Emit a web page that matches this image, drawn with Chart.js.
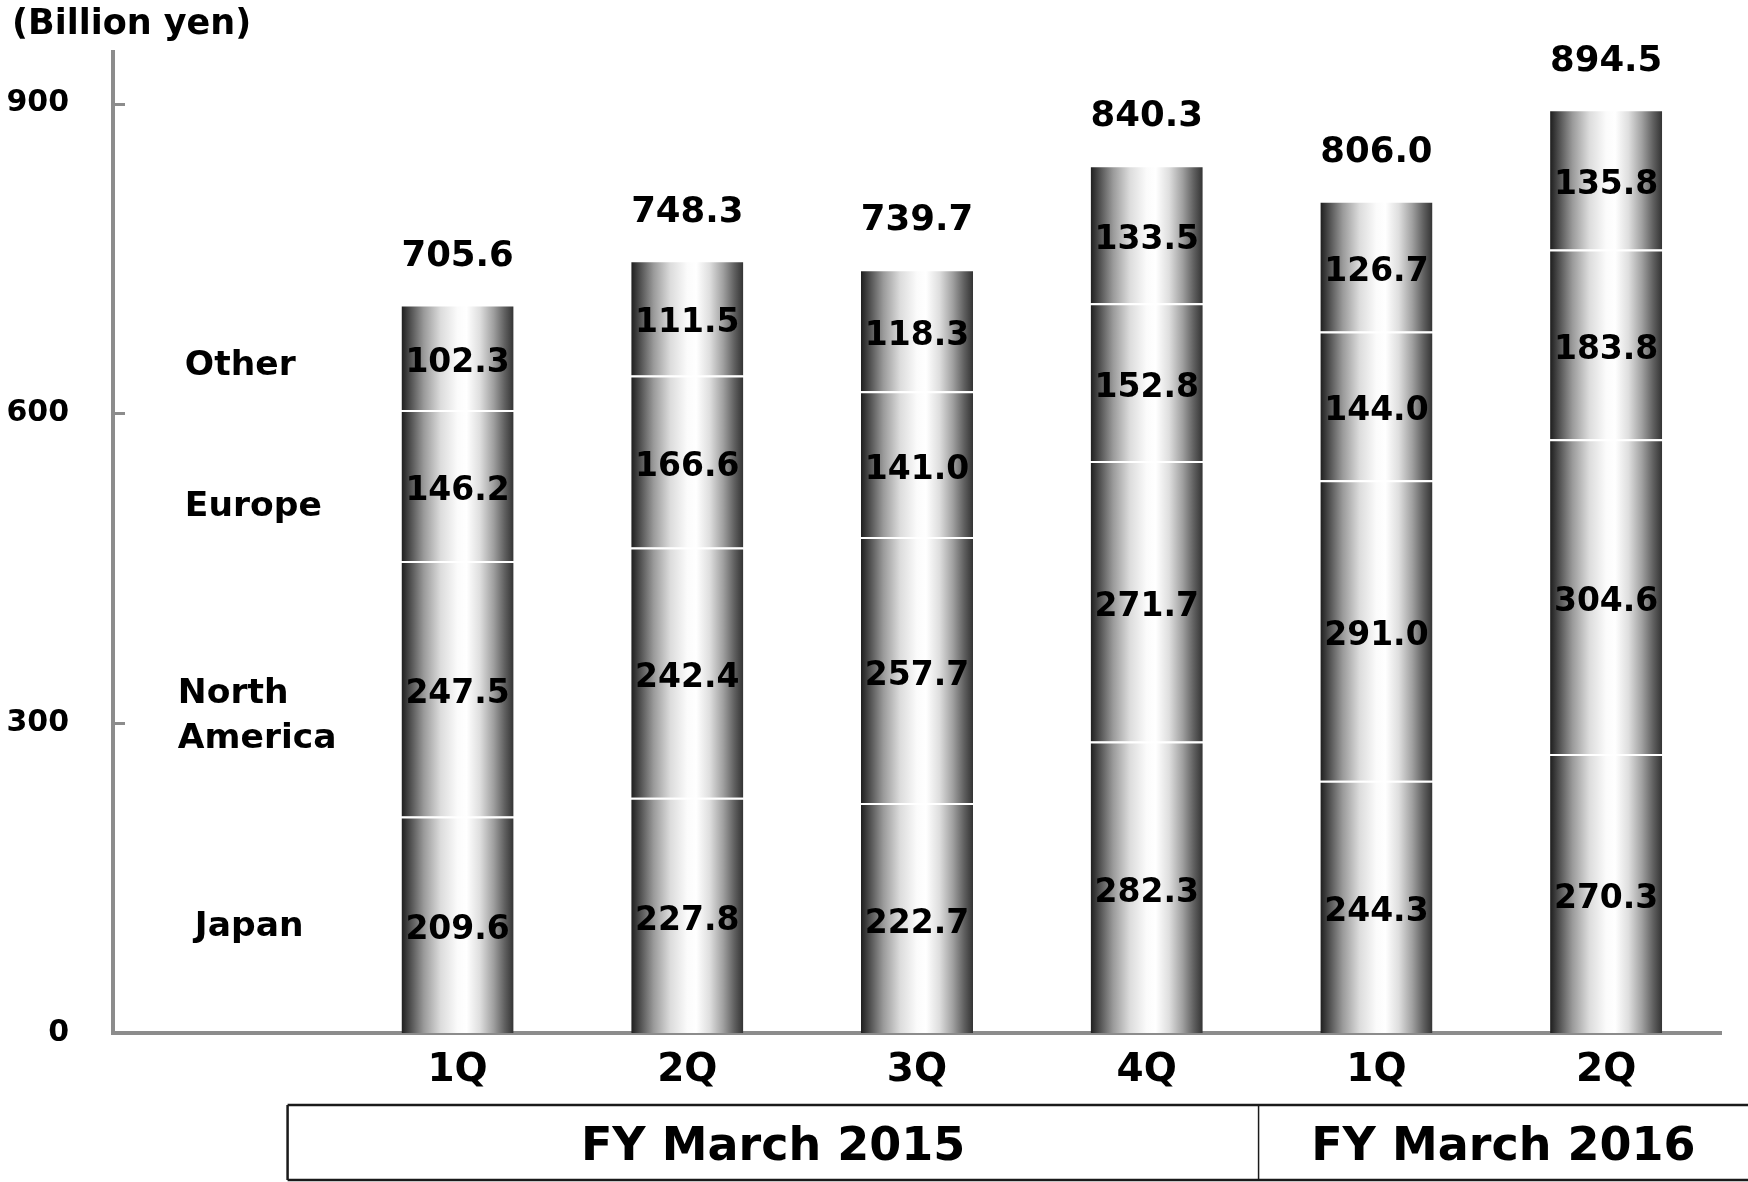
<!DOCTYPE html>
<html>
<head>
<meta charset="utf-8">
<title>Net sales by region</title>
<script src="https://cdn.jsdelivr.net/npm/chart.js@4.4.1/dist/chart.umd.min.js"></script>
<style>
  html, body { margin: 0; padding: 0; background: #ffffff; }
  #wrap { width: 1748px; height: 1182px; position: relative; }
</style>
</head>
<body>
<div id="wrap"><canvas id="chart"></canvas></div>
<script>
// Quarterly net sales by region (billion yen)
const quarters = ['1Q', '2Q', '3Q', '4Q', '1Q', '2Q'];
const fiscalYears = ['FY March 2015', 'FY March 2016'];
const quartersPerYear = [4, 2];
const japan        = [209.6, 227.8, 222.7, 282.3, 244.3, 270.3];
const northAmerica = [247.5, 242.4, 257.7, 271.7, 291.0, 304.6];
const europe       = [146.2, 166.6, 141.0, 152.8, 144.0, 183.8];
const other        = [102.3, 111.5, 118.3, 133.5, 126.7, 135.8];
const totals       = [705.6, 748.3, 739.7, 840.3, 806.0, 894.5];
const regionNames  = ['Japan', 'North America', 'Europe', 'Other'];
const yTicks       = [0, 300, 600, 900];
const unitLabel    = '(Billion yen)';

const FONT = '"DejaVu Sans", Verdana, sans-serif';
const BAR_PCT = 0.488;
const AXIS_GRAY = '#8c8c8c';

// The first category slot is left empty; the region names are drawn there.
const labels = [''].concat(quarters);
const withGap = arr => [null].concat(arr);

// Cylinder-like horizontal shading for each bar
function barFill(ctx) {
  const chart = ctx.chart;
  const xs = chart.scales.x;
  if (!xs || !chart.chartArea || !xs.width) return '#999';
  const cx = xs.getPixelForValue(ctx.dataIndex);
  const half = (xs.width / chart.data.labels.length) * BAR_PCT / 2;
  const g = chart.ctx.createLinearGradient(cx - half, 0, cx + half, 0);
  g.addColorStop(0.00, '#1e1e1e');
  g.addColorStop(0.08, '#505050');
  g.addColorStop(0.20, '#9a9a9a');
  g.addColorStop(0.35, '#dcdcdc');
  g.addColorStop(0.50, '#fbfbfb');
  g.addColorStop(0.58, '#ffffff');
  g.addColorStop(0.70, '#dedede');
  g.addColorStop(0.82, '#a0a0a0');
  g.addColorStop(0.92, '#606060');
  g.addColorStop(1.00, '#333333');
  return g;
}

function regionDataset(name, values) {
  return {
    label: name,
    data: withGap(values),
    backgroundColor: barFill,
    borderColor: '#ffffff',
    borderWidth: { top: 2, left: 0, right: 0, bottom: 0 },
    borderSkipped: 'start',
    barPercentage: BAR_PCT,
    categoryPercentage: 1.0,
    stack: 'sales'
  };
}

// Value labels inside segments, totals above bars, region names in the empty slot
const labelPlugin = {
  id: 'valueLabels',
  afterDatasetsDraw(chart) {
    const c = chart.ctx;
    const xs = chart.scales.x, ys = chart.scales.y;
    c.save();
    c.fillStyle = '#000000';
    c.textBaseline = 'middle';

    // segment values
    c.textAlign = 'center';
    c.font = 'bold 33px ' + FONT;
    chart.data.datasets.forEach((ds, di) => {
      const meta = chart.getDatasetMeta(di);
      meta.data.forEach((bar, i) => {
        const v = ds.data[i];
        if (v == null) return;
        c.fillText(v.toFixed(1), bar.x, (bar.y + bar.base) / 2 + 6);
      });
    });

    // totals above each stack
    c.font = 'bold 35.5px ' + FONT;
    totals.forEach((t, i) => {
      c.fillText(t.toFixed(1), xs.getPixelForValue(i + 1), ys.getPixelForValue(t) - 48);
    });

    // region names next to the first bar's segments
    c.textAlign = 'left';
    c.font = 'bold 34.5px ' + FONT;
    const slot0 = xs.getPixelForValue(0);
    const segCenter = di => {
      const bar = chart.getDatasetMeta(di).data[1];
      return (bar.y + bar.base) / 2;
    };
    c.fillText(regionNames[3], slot0 - 43, segCenter(3) + 9);
    c.fillText(regionNames[2], slot0 - 43, segCenter(2) + 22);
    const na = regionNames[1].split(' ');
    c.fillText(na[0], slot0 - 50, segCenter(1) + 5);
    c.fillText(na[1], slot0 - 50, segCenter(1) + 50);
    c.fillText(regionNames[0], slot0 - 33, segCenter(0) + 2);
    c.restore();
  }
};

// Inward tick marks, unit caption and the fiscal-year boxes under the axis
const framePlugin = {
  id: 'frame',
  afterDraw(chart) {
    const c = chart.ctx;
    const xs = chart.scales.x, ys = chart.scales.y;
    const area = chart.chartArea;
    c.save();

    c.strokeStyle = AXIS_GRAY;
    c.lineWidth = 3;
    yTicks.forEach(v => {
      if (v === 0) return;
      const y = Math.round(ys.getPixelForValue(v)) + 0.5;
      c.beginPath();
      c.moveTo(area.left, y);
      c.lineTo(area.left + 12, y);
      c.stroke();
    });

    c.fillStyle = '#000000';
    c.font = 'bold 35px ' + FONT;
    c.textAlign = 'left';
    c.textBaseline = 'middle';
    c.fillText(unitLabel, 12, 25);

    // fiscal-year grouping boxes
    const catW = xs.width / chart.data.labels.length;
    const boxTop = xs.bottom + 14;
    const boxBottom = chart.height - 2;
    const edges = [xs.getPixelForValue(0) + catW * 0.26];
    let idx = 0;
    quartersPerYear.forEach((n, k) => {
      idx += n;
      if (k < quartersPerYear.length - 1) {
        edges.push((xs.getPixelForValue(idx) + xs.getPixelForValue(idx + 1)) / 2 - 3);
      } else {
        edges.push(chart.width);
      }
    });
    c.strokeStyle = '#1a1a1a';
    c.lineWidth = 2.5;
    c.beginPath();
    c.moveTo(edges[0], boxTop); c.lineTo(chart.width, boxTop);
    c.moveTo(edges[0], boxBottom); c.lineTo(chart.width, boxBottom);
    c.moveTo(edges[0], boxTop); c.lineTo(edges[0], boxBottom);
    c.stroke();
    c.lineWidth = 1.5;
    for (let k = 1; k < edges.length - 1; k++) {
      c.beginPath();
      c.moveTo(edges[k], boxTop); c.lineTo(edges[k], boxBottom);
      c.stroke();
    }
    c.font = 'bold 46px ' + FONT;
    c.textAlign = 'center';
    fiscalYears.forEach((fy, k) => {
      c.fillText(fy, (edges[k] + edges[k + 1]) / 2, (boxTop + boxBottom) / 2 + 6);
    });
    c.restore();
  }
};

Chart.defaults.font.family = FONT;
Chart.defaults.color = '#000000';

new Chart(document.getElementById('chart'), {
  type: 'bar',
  data: {
    labels: labels,
    datasets: [
      regionDataset(regionNames[0], japan),
      regionDataset(regionNames[1], northAmerica),
      regionDataset(regionNames[2], europe),
      regionDataset(regionNames[3], other)
    ]
  },
  options: {
    responsive: true,
    maintainAspectRatio: false,
    animation: false,
    layout: { padding: { top: 52, right: 27, bottom: 91, left: 0 } },
    plugins: {
      legend: { display: false },
      tooltip: { enabled: false },
      title: { display: false }
    },
    scales: {
      x: {
        stacked: true,
        offset: true,
        grid: { display: false, drawTicks: false },
        border: { display: true, color: AXIS_GRAY, width: 4 },
        ticks: {
          color: '#000000',
          font: { size: 39, weight: 'bold', family: FONT },
          padding: 14,
          maxRotation: 0,
          autoSkip: false
        },
        afterFit(scale) { scale.height = 58; }
      },
      y: {
        stacked: true,
        min: 0,
        max: 950,
        grid: { display: false, drawTicks: false },
        border: { display: true, color: AXIS_GRAY, width: 4 },
        afterBuildTicks(scale) { scale.ticks = yTicks.map(v => ({ value: v })); },
        ticks: {
          color: '#000000',
          font: { size: 30, weight: 'bold', family: FONT },
          padding: 44
        },
        afterFit(scale) {
          scale.width = 113;
          scale.paddingTop = 0;
        }
      }
    }
  },
  plugins: [labelPlugin, framePlugin]
});
</script>
</body>
</html>
